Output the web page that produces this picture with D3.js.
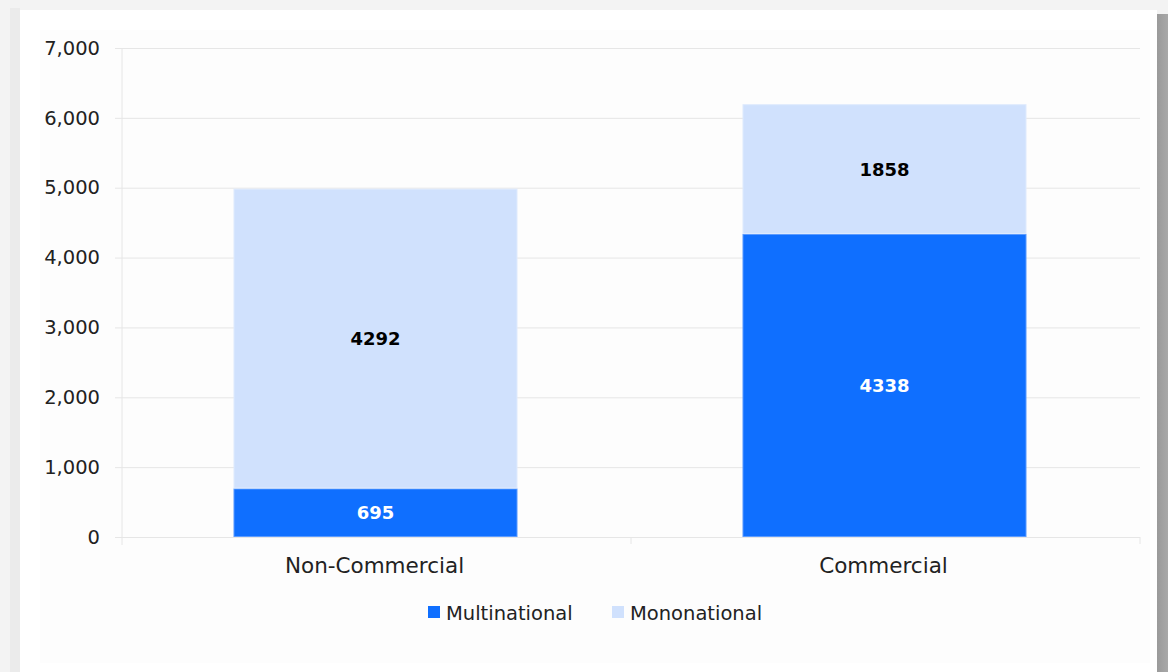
<!DOCTYPE html>
<html><head><meta charset="utf-8">
<script src="https://cdn.jsdelivr.net/npm/d3@7"></script>
<style>
html,body{margin:0;padding:0;background:#f3f3f3;}
svg{display:block;font-family:"DejaVu Sans",Verdana,sans-serif;}
</style></head>
<body>
<svg id="c" width="1168" height="672"></svg>
<script>
const categories = ["Non-Commercial", "Commercial"];
const seriesNames = ["Multinational", "Mononational"];
const multinational = [695, 4338];
const mononational = [4292, 1858];
const yTicks = [0, 1000, 2000, 3000, 4000, 5000, 6000, 7000];
const colors = ["#0f6fff", "#d0e1fd"];
const labelColors = ["#ffffff", "#000000"];

(function(){
const svg = d3.select("#c");
// frame
svg.append("rect").attr("x",0).attr("y",0).attr("width",1168).attr("height",672).attr("fill","#f3f3f3");
svg.append("rect").attr("x",10).attr("y",8).attr("width",10).attr("height",664).attr("fill","#ebebeb");
const grad = svg.append("defs").append("linearGradient").attr("id","sh").attr("x1","0").attr("x2","1");
grad.append("stop").attr("offset","0").attr("stop-color","#9a9a9a");
grad.append("stop").attr("offset","1").attr("stop-color","#a8a8a8");
svg.append("rect").attr("x",1157).attr("y",14).attr("width",11).attr("height",658).attr("fill","url(#sh)");
svg.append("rect").attr("x",20).attr("y",10).attr("width",1137).attr("height",662).attr("fill","#ffffff");
svg.append("rect").attr("x",40).attr("y",30).attr("width",1110).attr("height",633).attr("fill","#fdfdfd");

const pl = 122, pr = 1140, pt = 48, pb = 537;
const y = d3.scaleLinear().domain([0, 7000]).range([pb, pt]);
const x = d3.scaleBand().domain(categories).range([pl, pr]).paddingInner(0.442).paddingOuter(0.221);
const xb = d3.scaleBand().domain(categories).range([pl, pr]);

// grid
const gy = svg.append("g").attr("transform",`translate(${pl},0)`)
  .call(d3.axisLeft(y).tickValues(yTicks).tickFormat(d3.format(",")).tickSize(-(pr-pl)).tickSizeOuter(0));
gy.select(".domain").remove();
gy.selectAll(".tick line").attr("stroke","#e6e6e6").attr("x1",-7);
gy.selectAll(".tick text").attr("x",-22).attr("fill","#222").style("font-size","19.5px").style("font-family","DejaVu Sans, Verdana, sans-serif");
svg.append("line").attr("x1",pl).attr("x2",pl).attr("y1",pt).attr("y2",pb+8).attr("stroke","#e6e6e6");

// x ticks at band boundaries
svg.append("g").selectAll("line").data(categories.slice(1).concat(["__end"])).join("line")
  .attr("x1",d=> d==="__end" ? pr : xb(d)).attr("x2",d=> d==="__end" ? pr : xb(d))
  .attr("y1",pb).attr("y2",pb+7).attr("stroke","#e6e6e6");

// stacked data
const rows = categories.map((c,i)=>({cat:c, Multinational:multinational[i], Mononational:mononational[i]}));
const stack = d3.stack().keys(seriesNames)(rows);

svg.append("g").selectAll("g").data(stack).join("g")
  .attr("fill",(d,i)=>colors[i])
  .attr("stroke",(d,i)=> i===0 ? "#5b9bff" : "#dfeafd")
  .selectAll("rect").data(d=>d).join("rect")
  .attr("x",d=>x(d.data.cat)-0.5).attr("width",x.bandwidth()-1)
  .attr("y",d=>y(d[1])+0.5).attr("height",d=>y(d[0])-y(d[1])-1)
  .attr("stroke-width",1);

svg.append("g").selectAll("g").data(stack).join("g")
  .attr("fill",(d,i)=>labelColors[i])
  .selectAll("text").data(d=>d).join("text")
  .attr("x",d=>x(d.data.cat)+x.bandwidth()/2-1)
  .attr("y",d=>y((d[0]+d[1])/2))
  .attr("text-anchor","middle").attr("dominant-baseline","central")
  .style("font-size","18px").style("font-weight","bold")
  .text(d=>d[1]-d[0]);

// category labels
svg.append("g").selectAll("text").data(categories).join("text")
  .attr("x",d=>xb(d)+xb.bandwidth()/2-2).attr("y",565)
  .attr("text-anchor","middle").attr("dominant-baseline","central")
  .attr("fill","#222").style("font-size","21.5px").text(d=>d);

// legend
const legend = svg.append("g");
const legX = [428, 612];
seriesNames.forEach((s,i)=>{
  legend.append("rect").attr("x",legX[i]).attr("y",606).attr("width",12).attr("height",12).attr("fill",colors[i]);
  legend.append("text").attr("x",legX[i]+18).attr("y",613).attr("dominant-baseline","central")
    .attr("fill","#222").style("font-size","19.5px").text(s);
});
})();
</script>
</body></html>
